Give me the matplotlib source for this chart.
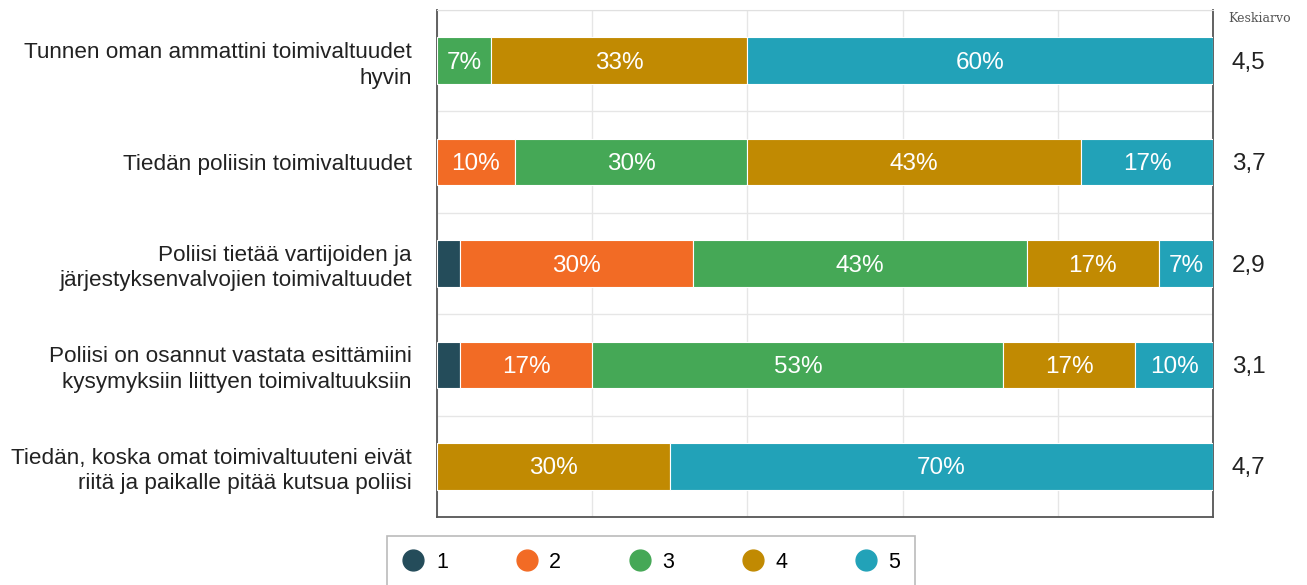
import matplotlib
matplotlib.use("Agg")
import matplotlib.pyplot as plt
from matplotlib.lines import Line2D
import numpy as np

categories = [
    "Tunnen oman ammattini toimivaltuudet\nhyvin",
    "Tiedän poliisin toimivaltuudet",
    "Poliisi tietää vartijoiden ja\njärjestyksenvalvojien toimivaltuudet",
    "Poliisi on osannut vastata esittämiini\nkysymyksiin liittyen toimivaltuuksiin",
    "Tiedän, koska omat toimivaltuuteni eivät\nriitä ja paikalle pitää kutsua poliisi",
]
series_names = ["1", "2", "3", "4", "5"]
s1 = [0, 0, 3, 3, 0]
s2 = [0, 10, 30, 17, 0]
s3 = [7, 30, 43, 53, 0]
s4 = [33, 43, 17, 17, 30]
s5 = [60, 17, 7, 10, 70]
means = ["4,5", "3,7", "2,9", "3,1", "4,7"]
colors = ["#244C5A", "#F26B25", "#45A856", "#C18A02", "#22A2B8"]

plt.rcParams['font.family'] = ['Liberation Sans', 'DejaVu Sans']

fig = plt.figure(figsize=(13.07, 5.85), dpi=100)
ax = fig.add_axes([437/1307, 1-517/585, (1213-437)/1307, (517-10)/585])

data = [s1, s2, s3, s4, s5]
y = np.arange(len(categories))
left = np.zeros(len(categories))
for vals, col, name in zip(data, colors, series_names):
    vals = np.array(vals, dtype=float)
    ax.barh(y, vals, left=left, height=0.46, color=col, edgecolor="white",
            linewidth=0.8, zorder=3, label=name)
    for yi, v, l in zip(y, vals, left):
        if v >= 5:
            ax.text(l + v/2, yi + 0.02, f"{int(v)}%", ha="center", va="center",
                    color="white", fontsize=17.5, zorder=4)
    left += vals

ax.set_xlim(0, 100)
ax.set_ylim(len(categories) - 0.5, -0.5)
ax.set_xticks(np.arange(0, 101, 20))
ax.set_xticklabels([])
ax.set_yticks(y)
ax.set_yticklabels(categories, fontsize=16.2, color="#222222", linespacing=1.27)
ax.tick_params(axis="both", length=0, pad=18)
ax.set_yticks(np.arange(-0.5, len(categories), 1), minor=True)
ax.tick_params(axis="y", which="minor", length=0)
ax.grid(axis="x", which="major", color="#e6e6e6", linewidth=1, zorder=0)
ax.grid(axis="y", which="minor", color="#e6e6e6", linewidth=1, zorder=0)
ax.grid(axis="y", which="major", visible=False)

for side in ["left", "bottom", "right"]:
    ax.spines[side].set_color("#555555")
    ax.spines[side].set_linewidth(1.3)
ax.spines["top"].set_color("#e0e0e0")

# means
for yi, m in zip(y, means):
    ax.text(1.024, yi + 0.02, m, transform=ax.get_yaxis_transform(), ha="left",
            va="center", fontsize=17.5, color="#222222")
fig.text(1228/1307, 1-19/585, "Keskiarvo", family="DejaVu Serif", fontsize=9,
         color="#555555", ha="left", va="center")

handles = [Line2D([0], [0], marker="o", linestyle="none", markersize=15,
                  markerfacecolor=c, markeredgecolor=c) for c in colors]
leg = fig.legend(handles, series_names, loc="center", bbox_to_anchor=(651/1307, 1-562/585),
                 ncol=5, frameon=True, fancybox=False, fontsize=15.5, columnspacing=3.1,
                 handletextpad=0.5, borderpad=0.7, handlelength=1.1)
leg.get_frame().set_edgecolor("#aaaaaa")
leg.get_frame().set_linewidth(1.2)

fig.savefig("out.png", dpi=100)
